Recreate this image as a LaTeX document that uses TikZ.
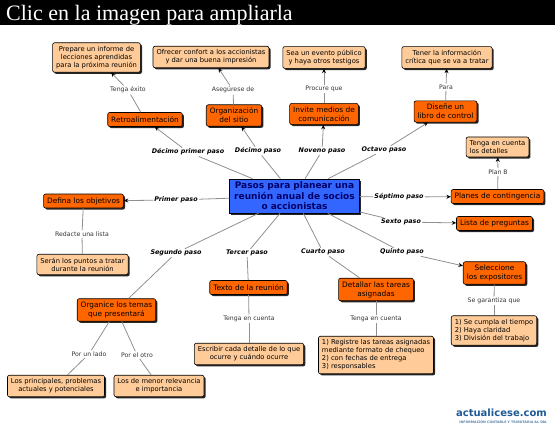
\documentclass[tikz,border=0pt]{standalone}
\usepackage{fontspec}
\setmainfont{DejaVu Sans}
\newfontfamily\bannerfont{Liberation Serif}
\usetikzlibrary{arrows.meta,shadows}

\definecolor{orangebox}{HTML}{FF6600}
\definecolor{peachbox}{HTML}{FFCC99}
\definecolor{mainblue}{HTML}{3366FF}
\definecolor{navy}{HTML}{000066}
\definecolor{linkgray}{HTML}{909090}
\definecolor{logoblue}{HTML}{1F5A96}
\definecolor{sloganblue}{HTML}{5A82AA}

\begin{document}
\begin{tikzpicture}[x=1pt,y=-1pt,>={Stealth[length=4.5pt,width=4pt,color=black]}]

	\tikzset{
		concept/.style={draw=black,line width=0.6pt,rounded corners=2pt,align=center,
				inner xsep=3.5pt,inner ysep=3.2pt,text=black,
				drop shadow={shadow xshift=1.6pt,shadow yshift=-1.6pt,opacity=1,fill=black!85}},
		hot/.style={concept,fill=orangebox,minimum height=14pt,font=\fontsize{7.4}{9}\selectfont},
		soft/.style={concept,fill=peachbox,inner ysep=3.5pt,font=\fontsize{6.75}{8}\selectfont},
		softlist/.style={soft,align=left},
		topic/.style={concept,sharp corners,line width=0.8pt,fill=mainblue,text=navy,
				inner xsep=4.5pt,inner ysep=3pt,font=\fontsize{9}{10.5}\selectfont\bfseries},
		pasolabel/.style={inner sep=1pt,font=\fontsize{6.4}{7}\selectfont\bfseries\itshape},
		rellabel/.style={inner sep=1.2pt,text=black!80,font=\fontsize{6.2}{7}\selectfont},
		link/.style={draw=linkgray,line width=0.8pt}
	}

	\useasboundingbox (0,0) rectangle (555,429);
	\fill[black] (0,0) rectangle (555,25);
	\node[anchor=base west,inner sep=0pt,text=white,font=\bannerfont\fontsize{22}{24}\selectfont] (title) at (6,20) {Clic en la imagen para ampliarla};

	\node[topic] (main) at (294.5,196) {Pasos para planear una\\reunión anual de socios\\o accionistas};

	\node[hot] (ret) at (145,119.5) {Retroalimentación};
	\node[hot] (org) at (234,115.5) {Organización\\del sitio};
	\node[hot] (inv) at (324,114) {Invite medios de\\comunicación};
	\node[hot] (dis) at (445.5,111.5) {Diseñe un\\libro de control};
	\node[hot] (pla) at (497.5,196.5) {Planes de contingencia};
	\node[hot] (lis) at (494.5,223.5) {Lista de preguntas};
	\node[hot] (sel) at (494.5,273) {Seleccione\\los expositores};
	\node[hot] (deta) at (376,289.5) {Detallar las tareas\\asignadas};
	\node[hot] (tex) at (248.5,287.5) {Texto de la reunión};
	\node[hot] (orga) at (116.5,310) {Organice los temas\\que presentará};
	\node[hot] (def) at (83.5,201) {Defina los objetivos};

	\node[soft] (prep) at (96.5,57.5) {Prepare un informe de\\lecciones aprendidas\\para la próxima reunión};
	\node[soft] (ofr) at (211,57) {Ofrecer confort a los accionistas\\y dar una buena impresión};
	\node[soft] (sea) at (324,57.5) {Sea un evento público\\y haya otros testigos};
	\node[soft] (ten) at (447,57.5) {Tener la información\\crítica que se va a tratar};
	\node[softlist] (cue) at (497.5,147) {Tenga en cuenta\\los detalles};
	\node[softlist] (cum) at (494,330.5) {1) Se cumpla el tiempo\\2) Haya claridad\\3) División del trabajo};
	\node[softlist] (reg) at (376,355) {1) Registre las tareas asignadas\\mediante formato de chequeo\\2) con fechas de entrega\\3) responsables};
	\node[soft] (esc) at (249,354) {Escribir cada detalle de lo que\\ocurre y cuándo ocurre};
	\node[soft] (pri) at (56,386) {Los principales, problemas\\actuales y potenciales};
	\node[soft] (men) at (159,386) {Los de menor relevancia\\e importancia};
	\node[soft] (ser) at (82.5,264.5) {Serán los puntos a tratar\\durante la reunión};

	\foreach \n/\x/\y/\txt in {ldp/188/152/Décimo primer paso, ldec/258/151/Décimo paso, lnov/322/151/Noveno paso,
			loct/384/150/Octavo paso, lsep/399/197/Séptimo paso, lsex/401/222/Sexto paso, lqui/402/252/Quinto paso,
			lcua/323/252/Cuarto paso, lter/247/253/Tercer paso, lseg/176/253/Segundo paso, lpri/176/200/Primer paso} {
			\node[pasolabel] (\n) at (\x,\y) {\txt};
		}

	\foreach \n/\x/\y/\txt in {r1/128/90/Tenga éxito, r2/233/90/Asegúrese de, r3/324/89/Procure que, r4/446/87/Para,
			r5/498/172/Plan B, r6/494/301/Se garantiza que, r7/376/319/Tenga en cuenta, r8/249/319/Tenga en cuenta,
			r9/89/354/Por un lado, r10/137/355/Por el otro, r11/82/234/Redacte una lista} {
			\node[rellabel] (\n) at (\x,\y) {\txt};
		}

	\foreach \a/\l/\b/\tip in {main/lpri/def/->, main/lseg/orga/-, main/lter/tex/-, main/lcua/deta/-,
			main/lqui/sel/->, main/lsex/lis/->, main/lsep/pla/->, main/loct/dis/->, main/lnov/inv/->,
			main/ldec/org/->, main/ldp/ret/->, ret/r1/prep/->, org/r2/ofr/->, inv/r3/sea/->, dis/r4/ten/->,
			pla/r5/cue/->, sel/r6/cum/-, deta/r7/reg/-, tex/r8/esc/-, orga/r9/pri/-, orga/r10/men/-, def/r11/ser/-} {
			\draw[link] (\a) -- (\l);
			\draw[link,\tip] (\l) -- (\b);
		}

	\node[anchor=base east,inner sep=0pt,text=logoblue,font=\fontsize{10}{12}\selectfont\bfseries] (logo) at (547,416.5) {actualicese.com};
	\node[anchor=north east,inner sep=0pt,text=sloganblue,font=\fontsize{3.3}{4}\selectfont\bfseries] (slogan) at (547,420) {INFORMACIÓN CONTABLE Y TRIBUTARIA AL DÍA};
\end{tikzpicture}
\end{document}
